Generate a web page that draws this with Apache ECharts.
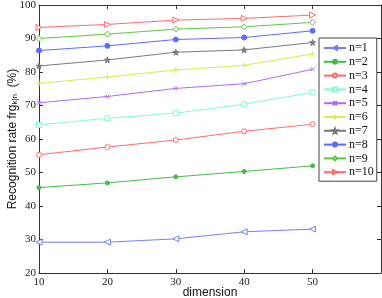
<!DOCTYPE html>
<html><head><meta charset="utf-8">
<script src="https://cdn.jsdelivr.net/npm/echarts@6/dist/echarts.min.js"></script>
<style>html,body{margin:0;padding:0;background:#fff}#c{width:382px;height:298px}</style>
</head><body><div id="c"></div>
<script>
const dims = [10, 20, 30, 40, 50];
const xTicks = [10, 20, 30, 40, 50];
const yTicks = [20, 30, 40, 50, 60, 70, 80, 90, 100];
const names = ['n=1','n=2','n=3','n=4','n=5','n=6','n=7','n=8','n=9','n=10'];
const n1 = [29.2, 29.2, 30.2, 32.3, 33.1];
const n2 = [45.5, 46.9, 48.7, 50.3, 52.0];
const n3 = [55.3, 57.6, 59.7, 62.3, 64.4];
const n4 = [64.2, 66.2, 67.7, 70.4, 73.9];
const n5 = [70.8, 72.7, 75.1, 76.5, 80.8];
const n6 = [76.6, 78.5, 80.6, 82.0, 85.4];
const n7 = [81.8, 83.6, 85.9, 86.6, 88.8];
const n8 = [86.4, 87.8, 89.7, 90.3, 92.3];
const n9 = [90.0, 91.3, 92.8, 93.5, 94.8];
const n10 = [93.3, 94.2, 95.5, 96.0, 97.0];
const values = [n1,n2,n3,n4,n5,n6,n7,n8,n9,n10];
const colors = ['#6f7fff','#44bb44','#ff6b6b','#7fffc8','#b566ff','#d8ec4c','#7a7a7a','#5a6cff','#5cc83c','#ff6b6b'];
const X = 'path://M0,0L10,10M10,0L0,10';
const P = 'path://M5,0L5,10M0,5L10,5';
const STAR = 'path://M5,0L6.2,3.6L10,3.6L6.9,5.9L8.1,9.5L5,7.3L1.9,9.5L3.1,5.9L0,3.6L3.8,3.6Z';
const sym = [
 {s:'triangle', r:90, fill:'#fff', size:6},
 {s:'circle', r:0, fill:null, size:4},
 {s:'circle', r:0, fill:'#fff', size:5},
 {s:'rect', r:0, fill:'#fff', size:5},
 {s:X, r:0, fill:null, size:4},
 {s:P, r:0, fill:null, size:6},
 {s:STAR, r:0, fill:null, size:6},
 {s:'circle', r:0, fill:null, size:5},
 {s:'diamond', r:0, fill:'#fff', size:6},
 {s:'triangle', r:-90, fill:'#fff', size:6}
];
const series = names.map((nm,i)=>({
  name: nm, type:'line', data: dims.map((d,j)=>[d, values[i][j]]),
  symbol: sym[i].s, symbolRotate: sym[i].r, symbolSize: sym[i].size, showAllSymbol:true,
  lineStyle:{color:colors[i], width:1},
  itemStyle:{color: sym[i].fill || colors[i], borderColor: colors[i], borderWidth:1},
  emphasis:{disabled:true}, animation:false
}));
const chart = echarts.init(document.getElementById('c'));
chart.setOption({
  animation:false,
  grid:{left:39, right:1, top:5, bottom:25, outerBoundsMode:'none', containLabel:false},
  legend:{
    orient:'vertical', left:319, top:38, itemWidth:22, itemHeight:5, itemGap:1.8,
    backgroundColor:'#fff', borderColor:'#444', borderWidth:1, borderRadius:0, padding:[4,3,3,4],
    textStyle:{fontFamily:'Liberation Serif', fontSize:12, color:'#111', padding:[0,0,0,-2]},
    data:names
  },
  xAxis:[{
    type:'value', min:10, max:60, interval:10, position:'bottom',
    name:'dimension', nameLocation:'middle', nameGap:14, nameMoveOverlap:false,
    nameTextStyle:{fontFamily:'Liberation Sans', fontSize:12, color:'#111'},
    axisLine:{lineStyle:{color:'#333'}}, axisTick:{inside:true, length:4, lineStyle:{color:'#333'}},
    axisLabel:{fontFamily:'Liberation Serif', fontSize:11, color:'#222', margin:4,
      formatter:v=> xTicks.includes(v)? String(v):''},
    splitLine:{show:false}
  },{
    type:'value', min:10, max:60, interval:10, position:'top',
    axisLine:{lineStyle:{color:'#333'}}, axisTick:{inside:true, length:4, lineStyle:{color:'#333'}},
    axisLabel:{show:false}, splitLine:{show:false}
  }],
  yAxis:[{
    type:'value', min:20, max:100, interval:10,
    name:'{a|Recognition rate frg}{b|k|n}{a|  (%)}', nameLocation:'middle', nameGap:20, nameMoveOverlap:false,
    nameTextStyle:{rich:{a:{fontFamily:'Liberation Sans', fontSize:12, color:'#111'},
      b:{fontFamily:'Liberation Sans', fontSize:8, color:'#111', padding:[5,0,0,0]}}},
    axisLine:{lineStyle:{color:'#333'}}, axisTick:{inside:true, length:4, lineStyle:{color:'#333'}},
    axisLabel:{fontFamily:'Liberation Serif', fontSize:11, color:'#222', margin:3,
      formatter:v=> yTicks.includes(v)? String(v):''},
    splitLine:{show:false}
  },{
    type:'value', min:20, max:100, interval:10, position:'right',
    axisLine:{show:true, lineStyle:{color:'#333'}}, axisTick:{show:true, inside:true, length:4, lineStyle:{color:'#333'}},
    axisLabel:{show:false}, splitLine:{show:false}
  }],
  series: series
});
</script></body></html>
